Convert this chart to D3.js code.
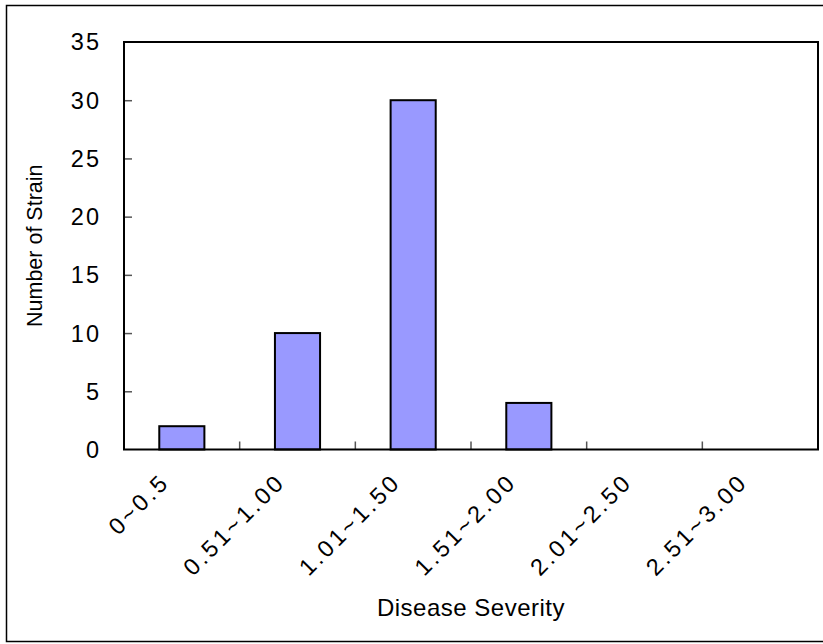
<!DOCTYPE html>
<html><head><meta charset="utf-8">
<script src="https://cdn.jsdelivr.net/npm/d3@7"></script>
<style>body{margin:0;background:#fff}svg{display:block}text{font-family:"Liberation Sans",Arial,sans-serif;fill:#000}</style>
</head><body><svg id="c" width="823" height="644"></svg>
<script>
const categories = ["0~0.5","0.51~1.00","1.01~1.50","1.51~2.00","2.01~2.50","2.51~3.00"];
const values = [2,10,30,4,0,0];
const yTicks = [0,5,10,15,20,25,30,35];
const xTitle = "Disease Severity";
const yTitle = "Number of Strain";

const svg = d3.select("#c");
const L=124,R=818,T=42,B=449.5;
svg.append("rect").attr("x",6.5).attr("y",5.5).attr("width",822).attr("height",636).attr("fill","none").attr("stroke","#000").attr("stroke-width",1.5);

const x = d3.scaleBand().domain(categories).range([L,R]).paddingInner(0.61).paddingOuter(0.305);
const y = d3.scaleLinear().domain([0,35]).range([B,T]);

// bars
svg.selectAll("rect.bar").data(values).enter().append("rect").attr("class","bar")
  .attr("x",(d,i)=>x(categories[i])).attr("width",x.bandwidth())
  .attr("y",d=>y(d)).attr("height",d=>B-y(d))
  .attr("fill","#9999ff").attr("stroke","#000").attr("stroke-width",2)
  .style("display",d=>d>0?null:"none");

// y ticks (inward)
const yAxis = d3.axisRight(y).tickValues(yTicks.filter(v=>v>0&&v<35)).tickSize(8).tickFormat("");
svg.append("g").attr("transform",`translate(${L},0)`).call(yAxis)
  .call(g=>g.select(".domain").remove()).selectAll("line").attr("stroke","#555").attr("stroke-width",1.5);
svg.selectAll("text.yl").data(yTicks).enter().append("text").attr("class","yl")
  .attr("x",101).attr("y",d=>y(d)).attr("dy","0.36em").attr("text-anchor","end")
  .style("font-size","23.5px").style("letter-spacing","2px").text(d=>d);

// x ticks at band boundaries (inward)
const step = x.step();
const bounds = d3.range(1,categories.length).map(i=>L+i*step);
svg.selectAll("line.xt").data(bounds).enter().append("line").attr("class","xt")
  .attr("x1",d=>d).attr("x2",d=>d).attr("y1",B).attr("y2",B-8).attr("stroke","#555").attr("stroke-width",1.5);

// frame
svg.append("rect").attr("x",L).attr("y",T).attr("width",R-L).attr("height",B-T)
  .attr("fill","none").attr("stroke","#000").attr("stroke-width",2);

// x labels rotated
svg.selectAll("text.xl").data(categories).enter().append("text").attr("class","xl")
  .attr("transform",d=>`translate(${x(d)+x.bandwidth()/2-11},${B+34}) rotate(-45)`)
  .attr("text-anchor","end").style("font-size","23.5px").style("letter-spacing","3px").text(d=>d);

svg.append("text").attr("x",(L+R)/2).attr("y",616).attr("text-anchor","middle").style("font-size","24px").style("letter-spacing","0.5px").text(xTitle);
svg.append("text").attr("transform",`translate(42,${(T+B)/2}) rotate(-90)`).attr("text-anchor","middle").style("font-size","21.5px").text(yTitle);
</script></body></html>
